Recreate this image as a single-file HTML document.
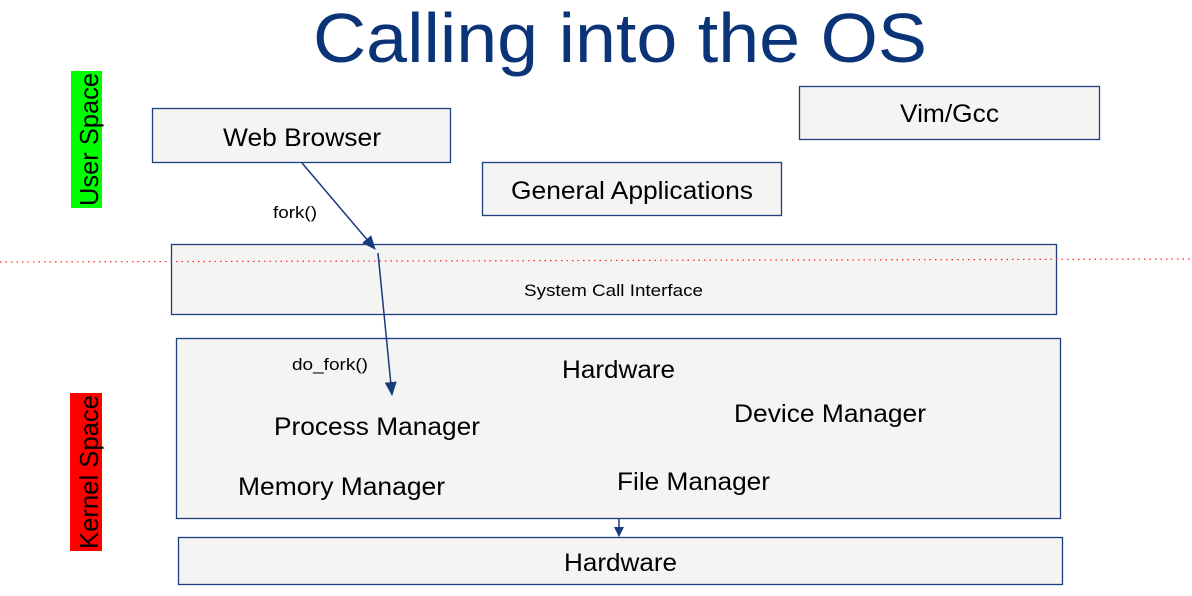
<!DOCTYPE html>
<html><head><meta charset="utf-8"><style>
html,body{margin:0;padding:0;background:#fff;}
body{width:1192px;height:596px;position:relative;overflow:hidden;font-family:"Liberation Sans",sans-serif;}
</style></head><body>
<svg width="1192" height="596" viewBox="0 0 1192 596" xmlns="http://www.w3.org/2000/svg" style="position:absolute;left:0;top:0">
<defs><marker id="a" markerWidth="10" markerHeight="10" refX="9" refY="5" orient="auto" markerUnits="userSpaceOnUse"><path d="M0,0 L10,5 L0,10 z" fill="#173b7c"/></marker>
<marker id="b" markerWidth="14" markerHeight="12" refX="13" refY="6" orient="auto" markerUnits="userSpaceOnUse"><path d="M0,0 L14,6 L0,12 z" fill="#173b7c"/></marker></defs>
<text x="313" y="62" textLength="614" lengthAdjust="spacingAndGlyphs" font-family="Liberation Sans, sans-serif" font-size="70" fill="#0b3478">Calling into the OS</text>
<rect x="71" y="71" width="31" height="137" fill="#00ff00"/>
<text transform="translate(98,206) rotate(-90)" textLength="133" lengthAdjust="spacingAndGlyphs" font-size="26" fill="#000">User Space</text>
<rect x="70" y="393" width="32" height="158" fill="#ff0000"/>
<text transform="translate(98,549) rotate(-90)" textLength="154" lengthAdjust="spacingAndGlyphs" font-size="26" fill="#000">Kernel Space</text>
<g fill="#f4f4f2" stroke="#1c3f80" stroke-width="1.3">
<rect x="152.5" y="108.5" width="298" height="54"/>
<rect x="799.5" y="86.5" width="300" height="53"/>
<rect x="482.5" y="162.5" width="299" height="53"/>
<rect x="171.5" y="244.5" width="885" height="70"/>
<rect x="176.5" y="338.5" width="884" height="180"/>
<rect x="178.5" y="537.5" width="884" height="47"/>
</g>
<line x1="0" y1="262" x2="1192" y2="259" stroke="#ff2020" stroke-width="1.2" stroke-dasharray="1.5,4"/>
<line x1="302" y1="163" x2="375" y2="249" stroke="#173b7c" stroke-width="1.5" marker-end="url(#b)"/>
<line x1="378" y1="253" x2="392" y2="395" stroke="#173b7c" stroke-width="1.5" marker-end="url(#b)"/>
<line x1="619" y1="519" x2="619" y2="536" stroke="#173b7c" stroke-width="1.5" marker-end="url(#a)"/>
<g font-size="25" fill="#000" lengthAdjust="spacingAndGlyphs">
<text x="223" y="146" textLength="158" lengthAdjust="spacingAndGlyphs">Web Browser</text>
<text x="900" y="122" textLength="99" lengthAdjust="spacingAndGlyphs">Vim/Gcc</text>
<text x="511" y="199" textLength="242" lengthAdjust="spacingAndGlyphs">General Applications</text>
<text x="562" y="378" textLength="113" lengthAdjust="spacingAndGlyphs">Hardware</text>
<text x="734" y="422" textLength="192" lengthAdjust="spacingAndGlyphs">Device Manager</text>
<text x="274" y="435" textLength="206" lengthAdjust="spacingAndGlyphs">Process Manager</text>
<text x="238" y="495" textLength="207" lengthAdjust="spacingAndGlyphs">Memory Manager</text>
<text x="617" y="490" textLength="153" lengthAdjust="spacingAndGlyphs">File Manager</text>
<text x="564" y="571" textLength="113" lengthAdjust="spacingAndGlyphs">Hardware</text>
</g>
<g font-size="17" fill="#000">
<text x="524" y="296" textLength="179" lengthAdjust="spacingAndGlyphs">System Call Interface</text>
<text x="273" y="218" textLength="44" lengthAdjust="spacingAndGlyphs">fork()</text>
<text x="292" y="370" textLength="76" lengthAdjust="spacingAndGlyphs">do_fork()</text>
</g>
</svg>
</body></html>
